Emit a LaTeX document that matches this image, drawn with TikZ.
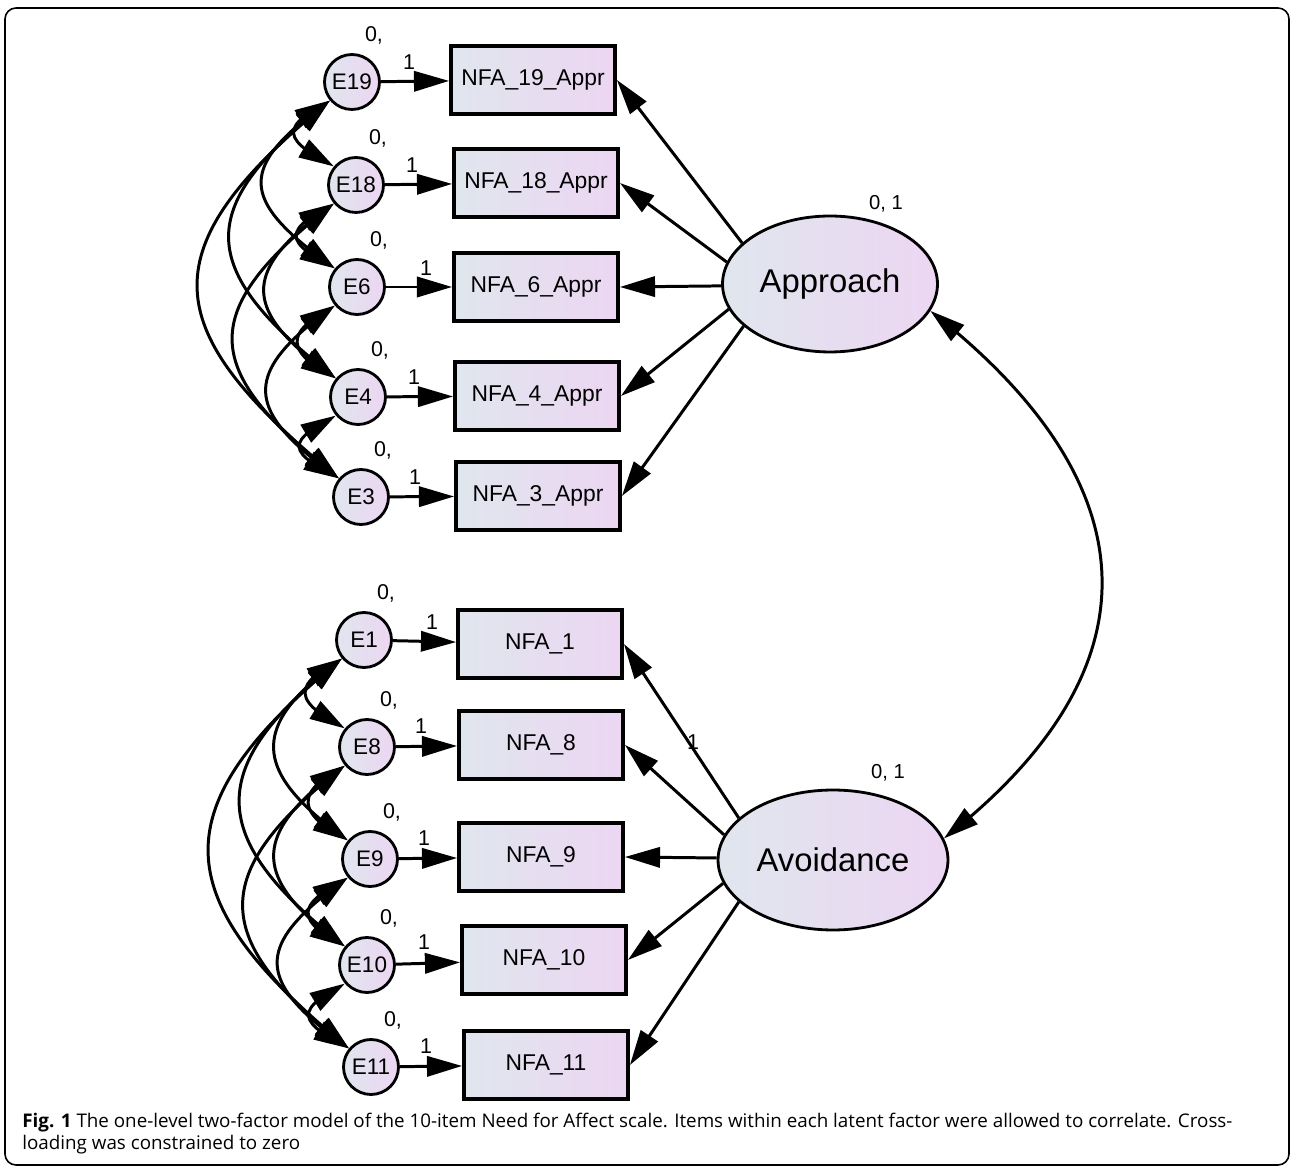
\documentclass[tikz,border=0pt]{standalone}
\usepackage{fontspec}
\setmainfont{Liberation Sans}
\newfontfamily\capfont{Open Sans}
\usetikzlibrary{arrows.meta,bending,shapes.geometric}

\definecolor{fillL}{RGB}{224,230,238}
\definecolor{fillR}{RGB}{236,214,242}

\tikzset{
  >={Triangle[length=20pt,width=11.5pt]},
  err/.style={circle,draw,line width=1.6pt,minimum size=1.1cm,inner sep=0pt,
    left color=fillL,right color=fillR,font=\fontsize{12.8}{14}\selectfont},
  item/.style={rectangle,draw,line width=2.2pt,minimum width=3.28cm,minimum height=1.36cm,
    inner sep=0pt,left color=fillL,right color=fillR,font=\fontsize{13}{15}\selectfont},
  latent/.style={ellipse,draw,line width=1.6pt,inner sep=0pt,
    left color=fillL,right color=fillR,font=\fontsize{18.7}{21}\selectfont},
  lbl/.style={inner sep=0pt,font=\fontsize{12.2}{14}\selectfont},
  path/.style={line width=1.7pt}
}

\begin{document}
\begin{tikzpicture}[x=0.02cm,y=0.02cm]
    \useasboundingbox (0,0) rectangle (1292,-1168);
    \draw[line width=0.9pt,rounded corners=0.22cm] (5,-8) rectangle (1289,-1165);

    \node[latent,minimum width=4.3cm,minimum height=2.72cm] (app) at (830,-284) {Approach};
    \node[latent,minimum width=4.6cm,minimum height=2.8cm] (avo) at (833,-860) {Avoidance};
    \node[lbl,font=\fontsize{11.5}{13}\selectfont] (appV) at (886,-204) {0, 1};
    \node[lbl,font=\fontsize{11.5}{13}\selectfont] (avoV) at (888,-773) {0, 1};

    % approach items
    \foreach \i/\n/\ex/\ey/\bx/\by/\ox/\oy in {
      1/19/352/82/533/80/409/62,
      2/18/356/185/536/183/412/165,
      3/6/357/287/536/287/426/268,
      4/4/358/397/537/396/414/377,
      5/3/361/497/538/496/415/477} {
      \node[err] (appE\i) at (\ex,-\ey) {E\n};
      \node[item] (appI\i) at (\bx,-\by) {NFA\_\n\_Appr};
      \node[lbl] (appZ\i) at (\ex+22,-\ey+47) {0,};
      \node[lbl] (appL\i) at (\ox,-\oy) {1};
      \draw[path,->] (appE\i) -- (appI\i);
    }

    % avoidance items
    \foreach \i/\n/\ex/\ey/\bx/\by/\ox/\oy in {
      1/1/364/640/540/644/432/622,
      2/8/367/747/541/745/421/726,
      3/9/370/859/541/857/424/838,
      4/10/367/965/544/960/424/942,
      5/11/371/1067/546/1065/426/1046} {
      \node[err] (avoE\i) at (\ex,-\ey) {E\n};
      \node[item] (avoI\i) at (\bx,-\by) {NFA\_\n};
      \node[lbl] (avoZ\i) at (\ex+22,-\ey+47) {0,};
      \node[lbl] (avoL\i) at (\ox,-\oy) {1};
      \draw[path,->] (avoE\i) -- (avoI\i);
    }

    % loadings
    \foreach \i/\a in {1/155,2/168,3/181,4/194,5/206}
      \draw[path,->] (app.\a) -- (appI\i.east);
    \foreach \i/\a in {1/156,2/167,3/179,4/192,5/204}
      \draw[path,->] (avo.\a) -- (avoI\i.east);
    \node[lbl] (fix) at (693,-742) {1};

    % error covariances
    \foreach \g in {app,avo} {
      \foreach \i in {1,...,4} {
        \pgfmathtruncatemacro\nxt{\i+1}
        \foreach \j in {\nxt,...,5} {
          \pgfmathsetmacro\hh{7+44*(\j-\i)}
          \pgfmathsetmacro\vv{41*(\j-\i)-14}
          \draw[path,<->] (\g E\i.220) .. controls +(-\hh,-\vv) and +(-\hh,\vv) .. (\g E\j.140);
        }
      }
    }

    \draw[path,<->] (app.-15) to[out=-38,in=38,looseness=1.35] (avo.11);

    \node[anchor=north west,inner sep=0pt,align=left,
      font=\capfont\fontsize{10.7}{12.6}\selectfont] (cap) at (22,-1113)
      {{\bfseries Fig. 1} The one-level two-factor model of the 10-item Need for Affect scale. Items within each latent factor were allowed to correlate. Cross-\\loading was constrained to zero};
\end{tikzpicture}
\end{document}
